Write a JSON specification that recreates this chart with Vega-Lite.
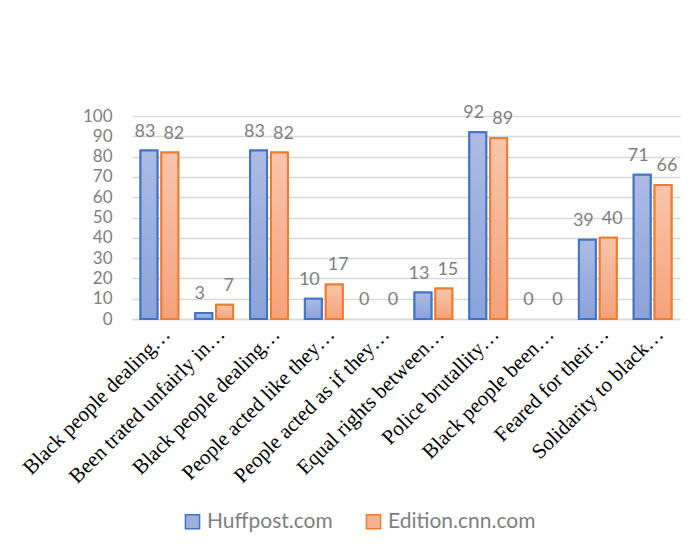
{
  "$schema": "https://vega.github.io/schema/vega-lite/v6.json",
  "autosize": "none",
  "width": 548,
  "height": 203,
  "padding": {"left": 132, "top": 116, "right": 19, "bottom": 237},
  "background": "white",
  "data": {
    "values": [
      {"category": "Black people dealing…", "series": "Huffpost.com", "value": 83},
      {"category": "Black people dealing…", "series": "Edition.cnn.com", "value": 82},
      {"category": "Been trated unfairly in…", "series": "Huffpost.com", "value": 3},
      {"category": "Been trated unfairly in…", "series": "Edition.cnn.com", "value": 7},
      {"category": "Black people dealing… ", "series": "Huffpost.com", "value": 83},
      {"category": "Black people dealing… ", "series": "Edition.cnn.com", "value": 82},
      {"category": "People acted like they…", "series": "Huffpost.com", "value": 10},
      {"category": "People acted like they…", "series": "Edition.cnn.com", "value": 17},
      {"category": "People acted as if they…", "series": "Huffpost.com", "value": 0},
      {"category": "People acted as if they…", "series": "Edition.cnn.com", "value": 0},
      {"category": "Equal rights between…", "series": "Huffpost.com", "value": 13},
      {"category": "Equal rights between…", "series": "Edition.cnn.com", "value": 15},
      {"category": "Police brutallity…", "series": "Huffpost.com", "value": 92},
      {"category": "Police brutallity…", "series": "Edition.cnn.com", "value": 89},
      {"category": "Black people been…", "series": "Huffpost.com", "value": 0},
      {"category": "Black people been…", "series": "Edition.cnn.com", "value": 0},
      {"category": "Feared for their…", "series": "Huffpost.com", "value": 39},
      {"category": "Feared for their…", "series": "Edition.cnn.com", "value": 40},
      {"category": "Solidarity to black…", "series": "Huffpost.com", "value": 71},
      {"category": "Solidarity to black…", "series": "Edition.cnn.com", "value": 66}
    ]
  },
  "encoding": {
    "x": {
      "field": "category",
      "type": "nominal",
      "sort": ["Black people dealing…", "Been trated unfairly in…", "Black people dealing… ", "People acted like they…", "People acted as if they…", "Equal rights between…", "Police brutallity…", "Black people been…", "Feared for their…", "Solidarity to black…"],
      "scale": {"paddingInner": 0.31, "paddingOuter": 0.155},
      "axis": {
        "title": null,
        "labelAngle": -45,
        "labelAlign": "right",
        "labelBaseline": "top",
        "labelFont": "Liberation Serif",
        "labelFontSize": 21,
        "labelColor": "#000000",
        "labelPadding": 4,
        "labelLimit": 300,
        "ticks": false,
        "domainColor": "#d9d9d9",
        "domainWidth": 1.5,
        "grid": false
      }
    },
    "xOffset": {
      "field": "series",
      "type": "nominal",
      "sort": ["Huffpost.com", "Edition.cnn.com"],
      "scale": {"domain": ["Huffpost.com", "Edition.cnn.com"], "paddingInner": 0.19, "paddingOuter": 0}
    },
    "y": {
      "field": "value",
      "type": "quantitative",
      "scale": {"domain": [0, 100], "nice": false},
      "axis": {
        "title": null,
        "values": [0, 10, 20, 30, 40, 50, 60, 70, 80, 90, 100],
        "labelFont": "Lato",
        "labelFontSize": 17,
        "labelColor": "#7f7f7f",
        "labelPadding": 20,
        "ticks": false,
        "domain": false,
        "gridColor": "#d9d9d9",
        "gridWidth": 1.5
      }
    }
  },
  "layer": [
    {
      "transform": [{"filter": "datum.value > 0"}],
      "mark": {"type": "bar", "strokeWidth": 2},
      "encoding": {
        "fill": {
          "field": "series",
          "type": "nominal",
          "sort": ["Huffpost.com", "Edition.cnn.com"],
          "scale": {"domain": ["Huffpost.com", "Edition.cnn.com"], "range": ["#9eb1de", "#f6b394"]},
          "legend": {
            "title": null,
            "orient": "none",
            "legendX": 50,
            "legendY": 395,
            "direction": "horizontal",
            "symbolType": "square",
            "symbolSize": 200,
            "symbolStrokeWidth": 1.5,
            "labelFont": "Lato",
            "labelFontSize": 21,
            "labelColor": "#7f7f7f",
            "columnPadding": 30,
            "labelOffset": 4
          }
        },
        "stroke": {
          "field": "series",
          "type": "nominal",
          "sort": ["Huffpost.com", "Edition.cnn.com"],
          "scale": {"domain": ["Huffpost.com", "Edition.cnn.com"], "range": ["#4472c4", "#ed7d31"]},
          "legend": {
            "title": null,
            "orient": "none",
            "legendX": 50,
            "legendY": 395,
            "direction": "horizontal",
            "symbolType": "square",
            "symbolSize": 200,
            "symbolStrokeWidth": 1.5,
            "labelFont": "Lato",
            "labelFontSize": 21,
            "labelColor": "#7f7f7f",
            "columnPadding": 30,
            "labelOffset": 4
          }
        }
      }
    },
    {
      "transform": [{"filter": "datum.value > 0 && datum.series === 'Huffpost.com'"}],
      "mark": {
        "type": "bar",
        "strokeWidth": 2,
        "stroke": "#4472c4",
        "fill": {"gradient": "linear", "x1": 0, "y1": 0, "x2": 0, "y2": 1, "stops": [{"offset": 0, "color": "#abbbe3"}, {"offset": 1, "color": "#8aa3d9"}]}
      },
      "encoding": {}
    },
    {
      "transform": [{"filter": "datum.value > 0 && datum.series === 'Edition.cnn.com'"}],
      "mark": {
        "type": "bar",
        "strokeWidth": 2,
        "stroke": "#ed7d31",
        "fill": {"gradient": "linear", "x1": 0, "y1": 0, "x2": 0, "y2": 1, "stops": [{"offset": 0, "color": "#f9c5ab"}, {"offset": 1, "color": "#f4a27a"}]}
      },
      "encoding": {}
    },
    {
      "transform": [{"filter": "datum.series === 'Huffpost.com'"}],
      "mark": {"type": "text", "baseline": "bottom", "dy": -10, "dx": -4, "font": "Lato", "fontSize": 18, "color": "#7f7f7f"},
      "encoding": {
        "text": {"field": "value", "type": "quantitative"}
      }
    },
    {
      "transform": [{"filter": "datum.series === 'Edition.cnn.com'"}],
      "mark": {"type": "text", "baseline": "bottom", "dy": -10, "dx": 4, "font": "Lato", "fontSize": 18, "color": "#7f7f7f"},
      "encoding": {
        "text": {"field": "value", "type": "quantitative"}
      }
    }
  ],
  "config": {
    "view": {"stroke": null}
  }
}
